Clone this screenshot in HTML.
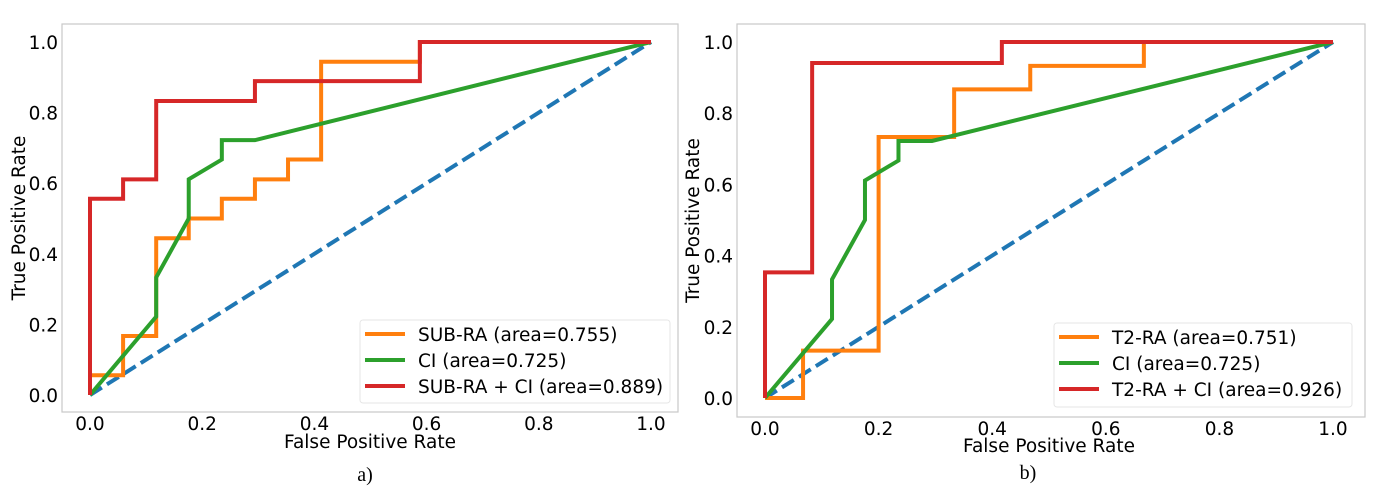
<!DOCTYPE html>
<html><head><meta charset="utf-8"><style>
html,body{margin:0;padding:0;background:#fff;}
svg{display:block;}
text{font-family:"DejaVu Sans","Liberation Sans",sans-serif;fill:#000;}
.cap{font-family:"Liberation Serif",serif;}
</style></head><body>
<svg id="fig" width="1386" height="489" viewBox="0 0 1386 489" xmlns="http://www.w3.org/2000/svg"></svg>
<script>
const ticks = [0, 0.2, 0.4, 0.6, 0.8, 1.0];
const tickLabels = ["0.0","0.2","0.4","0.6","0.8","1.0"];
// Panel a
const aSubFpr = [0,0,0.059,0.059,0.118,0.118,0.176,0.176,0.235,0.235,0.294,0.294,0.353,0.353,0.412,0.412,0.588,0.588,1];
const aSubTpr = [0,0.056,0.056,0.167,0.167,0.444,0.444,0.5,0.5,0.556,0.556,0.611,0.611,0.667,0.667,0.944,0.944,1,1];
const ciFpr = [0,0.118,0.118,0.176,0.176,0.235,0.235,0.294,1];
const ciTpr = [0,0.222,0.333,0.5,0.611,0.667,0.722,0.722,1];
const aComFpr = [0,0,0.059,0.059,0.118,0.118,0.294,0.294,0.588,0.588,1];
const aComTpr = [0,0.556,0.556,0.611,0.611,0.833,0.833,0.889,0.889,1,1];
// Panel b
const bT2Fpr = [0,0.067,0.067,0.2,0.2,0.333,0.333,0.467,0.467,0.667,0.667,1];
const bT2Tpr = [0,0,0.133,0.133,0.733,0.733,0.867,0.867,0.933,0.933,1,1];
const bComFpr = [0,0,0.083,0.083,0.417,0.417,1];
const bComTpr = [0,0.353,0.353,0.941,0.941,1,1];
const aLegend = ["SUB-RA (area=0.755)","CI (area=0.725)","SUB-RA + CI (area=0.889)"];
const bLegend = ["T2-RA (area=0.751)","CI (area=0.725)","T2-RA + CI (area=0.926)"];

const NS="http://www.w3.org/2000/svg";
const svg=document.getElementById('fig');
const FS=18.5;
function mk(tag,attrs,parent){const e=document.createElementNS(NS,tag);for(const k in attrs)e.setAttribute(k,attrs[k]);(parent||svg).appendChild(e);return e;}

function panel(p){
  const g=mk('g',{});
  
  
  const sx=v=>p.x0+v*(p.x1-p.x0), sy=v=>p.y0+v*(p.y1-p.y0);
  const box=mk('rect',{x:p.L,y:p.T,width:p.R-p.L,height:p.B-p.T,fill:'none',stroke:'#c8c8c8','stroke-width':1.2},g);
  
  
  ticks.forEach((t,i)=>{
    const tx=mk('text',{x:sx(t),y:p.B+18,'font-size':FS,'text-anchor':'middle'},g);tx.textContent=tickLabels[i];
    
    
    const ty=mk('text',{x:p.L-4,y:sy(t)+7,'font-size':FS,'text-anchor':'end'},g);ty.textContent=tickLabels[i];
    
    
  });
  const xl=mk('text',{x:p.xlX,y:p.xlY,'font-size':FS,'text-anchor':'middle'},g);xl.textContent='False Positive Rate';
  
  
  const yl=mk('text',{x:0,y:0,'font-size':FS,'text-anchor':'middle',transform:`translate(${p.ylX},${(p.T+p.B)/2}) rotate(-90)`},g);yl.textContent='True Positive Rate';
  
  
  const cap=mk('text',{x:p.capX,y:p.capY,'font-size':20,'text-anchor':'middle',class:'cap'},g);cap.textContent=p.cap;
  
  
  const diag=mk('line',{x1:sx(0),y1:sy(0),x2:sx(1),y2:sy(1),stroke:'#1f77b4','stroke-width':4,'stroke-dasharray':'14,6'},g);
  
  
  p.series.forEach(s=>{
    const pts=s.x.map((v,i)=>sx(v)+','+sy(s.y[i])).join(' ');
    const pl=mk('polyline',{points:pts,fill:'none',stroke:s.c,'stroke-width':4,'stroke-linejoin':'miter'},g);
    
    
  });
  const lg=mk('g',{},g);
  
  
  mk('rect',{x:p.lg[0],y:p.lg[1],width:p.lg[2],height:p.lg[3],rx:3,fill:'#fff',stroke:'#e6e6e6'},lg);
  p.series.forEach((s,i)=>{
    const y=p.lg[1]+14+i*26;
    mk('line',{x1:p.lg[0]+5,y1:y,x2:p.lg[0]+45,y2:y,stroke:s.c,'stroke-width':4},lg);
    const t=mk('text',{x:p.lg[0]+58,y:y+7,'font-size':FS},lg);t.textContent=p.legend[i];
    
    
  });
}
panel({name:'panel-a',L:62,R:678,T:24,B:412,x0:90,x1:651,y0:395,y1:42,xlX:370,xlY:448,ylX:25,cap:'a)',capX:365,capY:481,
  lg:[360,320,310,83],legend:aLegend,
  series:[{x:aSubFpr,y:aSubTpr,c:'#ff7f0e',n:'sub-ra-curve'},{x:ciFpr,y:ciTpr,c:'#2ca02c',n:'ci-curve'},{x:aComFpr,y:aComTpr,c:'#d62728',n:'sub-ra-ci-curve'}]});
panel({name:'panel-b',L:737,R:1365,T:24,B:417,x0:765,x1:1333,y0:398,y1:42,xlX:1049,xlY:452,ylX:699,cap:'b)',capX:1028,capY:479,
  lg:[1054,323,298,84],legend:bLegend,
  series:[{x:bT2Fpr,y:bT2Tpr,c:'#ff7f0e',n:'t2-ra-curve'},{x:ciFpr,y:ciTpr,c:'#2ca02c',n:'ci-curve'},{x:bComFpr,y:bComTpr,c:'#d62728',n:'t2-ra-ci-curve'}]});
</script>
</body></html>
